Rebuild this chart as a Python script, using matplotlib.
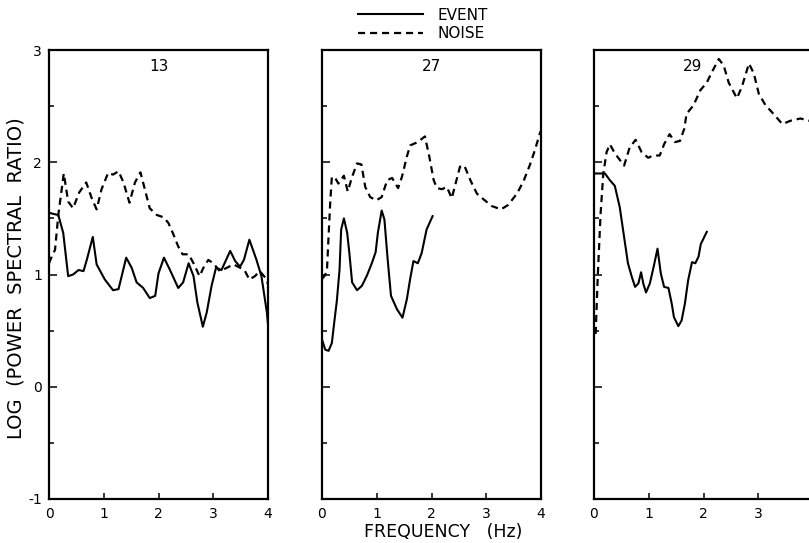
import matplotlib
matplotlib.use("Agg")
import matplotlib.pyplot as plt
from matplotlib.ticker import MultipleLocator

plt.rcParams['font.family'] = ['DejaVu Sans']

# station numbers shown at the top of each panel
stations = ['13', '27', '29']

# station 13
event_13_f = [0.0, 0.08, 0.17, 0.26, 0.35, 0.44, 0.54, 0.63, 0.69, 0.80, 0.87, 1.02,
              1.17, 1.27, 1.41, 1.51, 1.60, 1.72, 1.84, 1.94, 2.00, 2.10, 2.21, 2.36,
              2.45, 2.55, 2.64, 2.71, 2.81, 2.88, 2.97, 3.05, 3.15, 3.31, 3.40, 3.49,
              3.56, 3.66, 3.79, 3.88, 3.98, 4.02]
event_13_v = [1.55, 1.54, 1.53, 1.37, 0.985, 1.00, 1.04, 1.03, 1.13, 1.335, 1.09, 0.955,
              0.86, 0.87, 1.15, 1.06, 0.93, 0.88, 0.79, 0.81, 1.01, 1.15, 1.04, 0.88,
              0.93, 1.10, 0.985, 0.75, 0.535, 0.66, 0.90, 1.06, 1.04, 1.21, 1.12, 1.07,
              1.13, 1.31, 1.13, 0.985, 0.66, 0.45]
noise_13_f = [0.0, 0.05, 0.11, 0.17, 0.27, 0.35, 0.44, 0.55, 0.68, 0.78, 0.87, 0.96,
              1.08, 1.17, 1.27, 1.36, 1.47, 1.57, 1.67, 1.75, 1.84, 1.97, 2.09, 2.18,
              2.27, 2.36, 2.44, 2.55, 2.64, 2.75, 2.82, 2.91, 3.00, 3.12, 3.25, 3.37,
              3.49, 3.58, 3.66, 3.76, 3.85, 3.98, 4.00]
noise_13_v = [1.10, 1.16, 1.22, 1.53, 1.90, 1.65, 1.59, 1.73, 1.82, 1.68, 1.58, 1.76,
              1.905, 1.89, 1.92, 1.82, 1.64, 1.82, 1.91, 1.76, 1.59, 1.53, 1.51, 1.46,
              1.36, 1.25, 1.18, 1.18, 1.10, 0.985, 1.06, 1.13, 1.10, 1.03, 1.06, 1.09,
              1.06, 1.03, 0.955, 0.985, 1.03, 0.955, 0.91]

# station 27
event_27_f = [0.0, 0.06, 0.12, 0.18, 0.23, 0.27, 0.32, 0.35, 0.40, 0.46, 0.50, 0.55,
              0.64, 0.73, 0.82, 0.91, 0.98, 1.02, 1.09, 1.14, 1.20, 1.26, 1.37, 1.47,
              1.55, 1.61, 1.67, 1.75, 1.82, 1.91, 2.02]
event_27_v = [0.42, 0.33, 0.32, 0.39, 0.60, 0.76, 1.04, 1.40, 1.50, 1.37, 1.19, 0.93,
              0.86, 0.90, 0.99, 1.10, 1.20, 1.37, 1.57, 1.49, 1.13, 0.81, 0.69, 0.615,
              0.78, 0.96, 1.12, 1.10, 1.19, 1.40, 1.52]
noise_27_f = [0.0, 0.05, 0.09, 0.12, 0.15, 0.18, 0.24, 0.30, 0.40, 0.47, 0.55, 0.64,
              0.72, 0.79, 0.88, 0.99, 1.09, 1.19, 1.28, 1.39, 1.46, 1.55, 1.61, 1.75,
              1.88, 1.96, 2.04, 2.10, 2.19, 2.28, 2.37, 2.44, 2.52, 2.60, 2.71, 2.83,
              2.95, 3.10, 3.27, 3.40, 3.56, 3.68, 3.80, 3.89, 3.98, 4.02]
noise_27_v = [0.96, 0.99, 1.03, 1.34, 1.64, 1.87, 1.86, 1.81, 1.88, 1.74, 1.87, 1.99,
              1.98, 1.78, 1.69, 1.66, 1.69, 1.84, 1.86, 1.77, 1.87, 2.05, 2.15, 2.18,
              2.23, 2.05, 1.84, 1.77, 1.76, 1.78, 1.68, 1.81, 1.96, 1.97, 1.84, 1.72,
              1.67, 1.61, 1.58, 1.62, 1.72, 1.83, 1.98, 2.11, 2.26, 2.30]

# station 29
event_29_f = [0.0, 0.20, 0.29, 0.38, 0.47, 0.56, 0.62, 0.69, 0.75, 0.81, 0.86, 0.90,
              0.95, 1.02, 1.09, 1.16, 1.22, 1.28, 1.36, 1.42, 1.46, 1.54, 1.60, 1.66,
              1.72, 1.79, 1.85, 1.91, 1.95, 2.06]
event_29_v = [1.90, 1.90, 1.84, 1.79, 1.60, 1.30, 1.10, 0.98, 0.89, 0.92, 1.02, 0.92,
              0.84, 0.92, 1.07, 1.23, 1.01, 0.89, 0.88, 0.74, 0.62, 0.54, 0.59, 0.74,
              0.95, 1.11, 1.10, 1.16, 1.27, 1.38]
noise_29_f = [0.03, 0.07, 0.12, 0.17, 0.23, 0.29, 0.38, 0.55, 0.65, 0.76, 0.87, 0.99,
              1.08, 1.20, 1.28, 1.38, 1.48, 1.57, 1.65, 1.69, 1.82, 1.94, 2.06, 2.15,
              2.28, 2.37, 2.46, 2.61, 2.70, 2.83, 2.92, 3.01, 3.13, 3.28, 3.44, 3.59,
              3.77, 3.93, 4.05]
noise_29_v = [0.47, 1.00, 1.54, 1.90, 2.09, 2.16, 2.08, 1.97, 2.13, 2.20, 2.09, 2.04,
              2.06, 2.06, 2.16, 2.25, 2.18, 2.19, 2.30, 2.43, 2.51, 2.64, 2.71, 2.80,
              2.92, 2.86, 2.71, 2.57, 2.67, 2.88, 2.79, 2.61, 2.51, 2.43, 2.34, 2.37,
              2.39, 2.37, 2.37]

x_ticks = [0, 1, 2, 3, 4]
y_ticks = [-1, 0, 1, 2, 3]

events = [(event_13_f, event_13_v), (event_27_f, event_27_v), (event_29_f, event_29_v)]
noises = [(noise_13_f, noise_13_v), (noise_27_f, noise_27_v), (noise_29_f, noise_29_v)]
title_x = [2.0, 2.0, 1.8]

W, H = 809, 543
fig = plt.figure(figsize=(W / 100, H / 100), dpi=100)
lefts = [49, 322, 594]

dash = (0, (3.2, 2.2))
handles = []
for i, left in enumerate(lefts):
    ax = fig.add_axes([left / W, 44 / H, 219 / W, 449 / H])
    ef, ev = events[i]
    nf, nv = noises[i]
    l1, = ax.plot(ef, ev, color='k', lw=1.5, solid_joinstyle='round')
    l2, = ax.plot(nf, nv, color='k', lw=1.6, linestyle=dash)
    if i == 0:
        handles = [l1, l2]
    ax.set_xlim(0, 4)
    ax.set_ylim(-1, 3)
    ax.set_xticks(x_ticks)
    ax.set_yticks(y_ticks)
    ax.yaxis.set_minor_locator(MultipleLocator(0.5))
    ax.tick_params(axis='both', which='both', direction='in', top=False, right=False,
                   width=1.1, colors='k', labelsize=10)
    ax.tick_params(axis='y', which='major', length=5.5, pad=5)
    ax.tick_params(axis='y', which='minor', length=3.5)
    ax.tick_params(axis='x', which='major', length=4, pad=5.5)
    ax.set_xticklabels([str(t) for t in x_ticks])
    if i == 0:
        ax.set_yticklabels([str(t) for t in y_ticks])
    else:
        ax.set_yticklabels([])
    for s in ax.spines.values():
        s.set_linewidth(1.6)
    ax.text(title_x[i], 2.85, stations[i], ha='center', va='center', fontsize=11)

fig.legend(handles, ['EVENT', 'NOISE'], loc='upper left',
           bbox_to_anchor=(347 / W, 1 + 3 / H), frameon=False, fontsize=11,
           handlelength=4.3, handletextpad=0.9, labelspacing=0.22, borderpad=0.2)

fig.text(16 / W, 1 - 278 / H, 'LOG  (POWER  SPECTRAL  RATIO)', rotation=90,
         ha='center', va='center', fontsize=14)
fig.text(443 / W, 1 - 532 / H, 'FREQUENCY   (Hz)', ha='center', va='center',
         fontsize=12.5)

fig.savefig('out.png', dpi=100, facecolor='white')
